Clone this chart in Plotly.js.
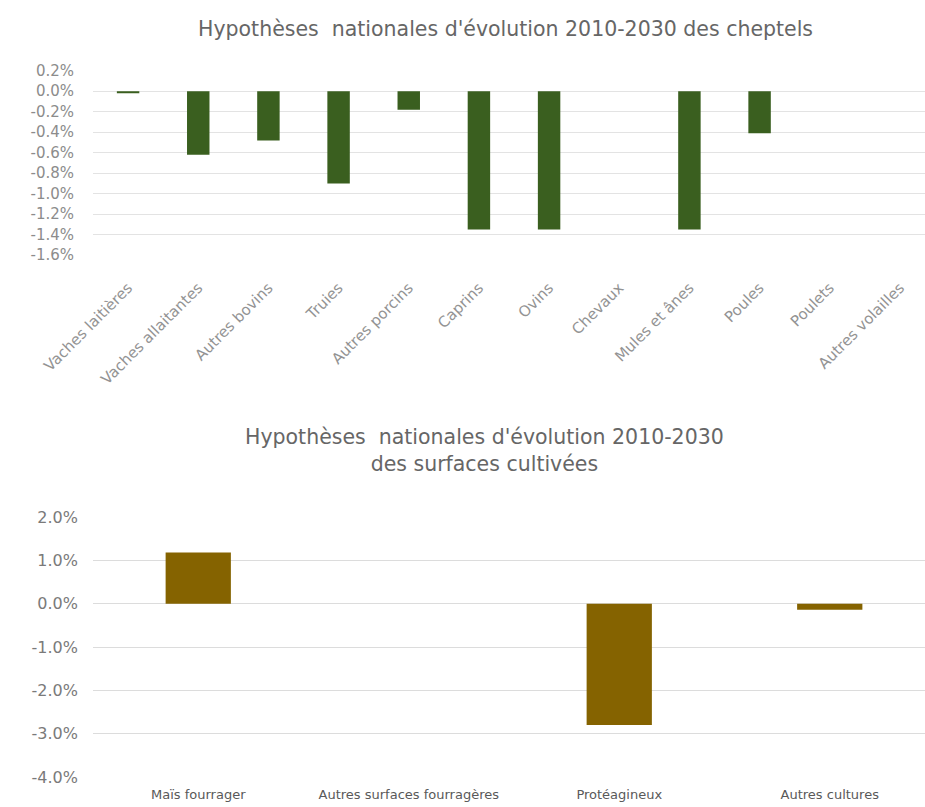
<!DOCTYPE html>
<html>
<head>
<meta charset="utf-8">
<script src="https://cdn.plot.ly/plotly-3.0.1.min.js"></script>
<style>
html,body{margin:0;padding:0;background:#fff;overflow:hidden;width:925px;height:807px;}
#chart{width:945px;height:807px;}
</style>
</head>
<body>
<div id="chart"></div>
<script>
// Top chart: livestock
const cheptelCategories = ["Vaches laitières","Vaches allaitantes","Autres bovins","Truies","Autres porcins","Caprins","Ovins","Chevaux","Mules et ânes","Poules","Poulets","Autres volailles"];
const cheptelValues = [-0.02, -0.62, -0.48, -0.90, -0.18, -1.35, -1.35, 0, -1.35, -0.41, 0, 0];
const cheptelTickVals = [0.2, 0.0, -0.2, -0.4, -0.6, -0.8, -1.0, -1.2, -1.4, -1.6];
const cheptelTickText = ["0.2%","0.0%","-0.2%","-0.4%","-0.6%","-0.8%","-1.0%","-1.2%","-1.4%","-1.6%"];
const cheptelTitle = "Hypothèses&nbsp; nationales d'évolution 2010-2030 des cheptels";

// Bottom chart: cultivated areas
const surfaceCategories = ["Maïs fourrager","Autres surfaces fourragères","Protéagineux","Autres cultures"];
const surfaceValues = [1.18, 0, -2.80, -0.14];
const surfaceTickVals = [2, 1, 0, -1, -2, -3, -4];
const surfaceTickText = ["2.0%","1.0%","0.0%","-1.0%","-2.0%","-3.0%","-4.0%"];
const surfaceTitle = "Hypothèses&nbsp; nationales d'évolution 2010-2030<br>des surfaces cultivées";

const H = 807, L = 93, PW = 842;
const py = v => 1 - v / H;
const px = v => (v - L) / PW;
const FONT = 'DejaVu Sans, sans-serif';

const traces = [
  {
    type: 'bar', x: cheptelCategories, y: cheptelValues,
    xaxis: 'x', yaxis: 'y',
    marker: {color: '#3a5f1f'}, width: 0.32, hoverinfo: 'x+y'
  },
  {
    type: 'bar', x: surfaceCategories, y: surfaceValues,
    xaxis: 'x2', yaxis: 'y2',
    marker: {color: '#856300'}, width: 0.31, hoverinfo: 'x+y'
  }
];

const layout = {
  width: 945, height: H,
  margin: {l: L, r: 945 - L - PW, t: 0, b: 0},
  paper_bgcolor: '#ffffff', plot_bgcolor: '#ffffff',
  showlegend: false,
  font: {family: FONT, color: '#7f7f7f'},
  xaxis: {
    domain: [0, 1], anchor: 'y', type: 'category',
    showgrid: false, zeroline: false, showline: false, ticks: '',
    tickangle: -45, tickfont: {size: 15, color: '#939393'},
    ticklabelstandoff: 20,
    automargin: false
  },
  yaxis: {
    domain: [py(255.2), py(70.7)], anchor: 'x',
    range: [-1.6, 0.2], tickvals: cheptelTickVals, ticktext: cheptelTickText,
    showgrid: true, gridcolor: '#e3e3e3', gridwidth: 1,
    zeroline: false, showline: false, ticks: '',
    ticklabelstandoff: 18,
    tickfont: {size: 15, color: '#8c8c8c'}, automargin: false
  },
  xaxis2: {
    domain: [0, 1], anchor: 'y2', type: 'category',
    showgrid: false, zeroline: false, showline: false, ticks: '',
    tickangle: 0, tickfont: {size: 13, color: '#595959'},
    ticklabelstandoff: 8,
    automargin: false
  },
  yaxis2: {
    domain: [py(777), py(517)], anchor: 'x2',
    range: [-4, 2], tickvals: surfaceTickVals, ticktext: surfaceTickText,
    showgrid: true, gridcolor: '#dcdcdc', gridwidth: 1,
    zeroline: false, showline: false, ticks: '',
    ticklabelstandoff: 14,
    tickfont: {size: 16, color: '#7a7a7a'}, automargin: false
  },
  annotations: [
    {
      text: cheptelTitle, xref: 'paper', yref: 'paper',
      x: px(505), y: py(29), xanchor: 'center', yanchor: 'middle',
      showarrow: false, font: {size: 20.5, color: '#666666', family: FONT}
    },
    {
      text: surfaceTitle, xref: 'paper', yref: 'paper',
      x: px(484), y: py(450), xanchor: 'center', yanchor: 'middle',
      showarrow: false, font: {size: 20.5, color: '#666666', family: FONT}
    }
  ]
};

Plotly.newPlot('chart', traces, layout, {displayModeBar: false, staticPlot: true});
</script>
</body>
</html>
